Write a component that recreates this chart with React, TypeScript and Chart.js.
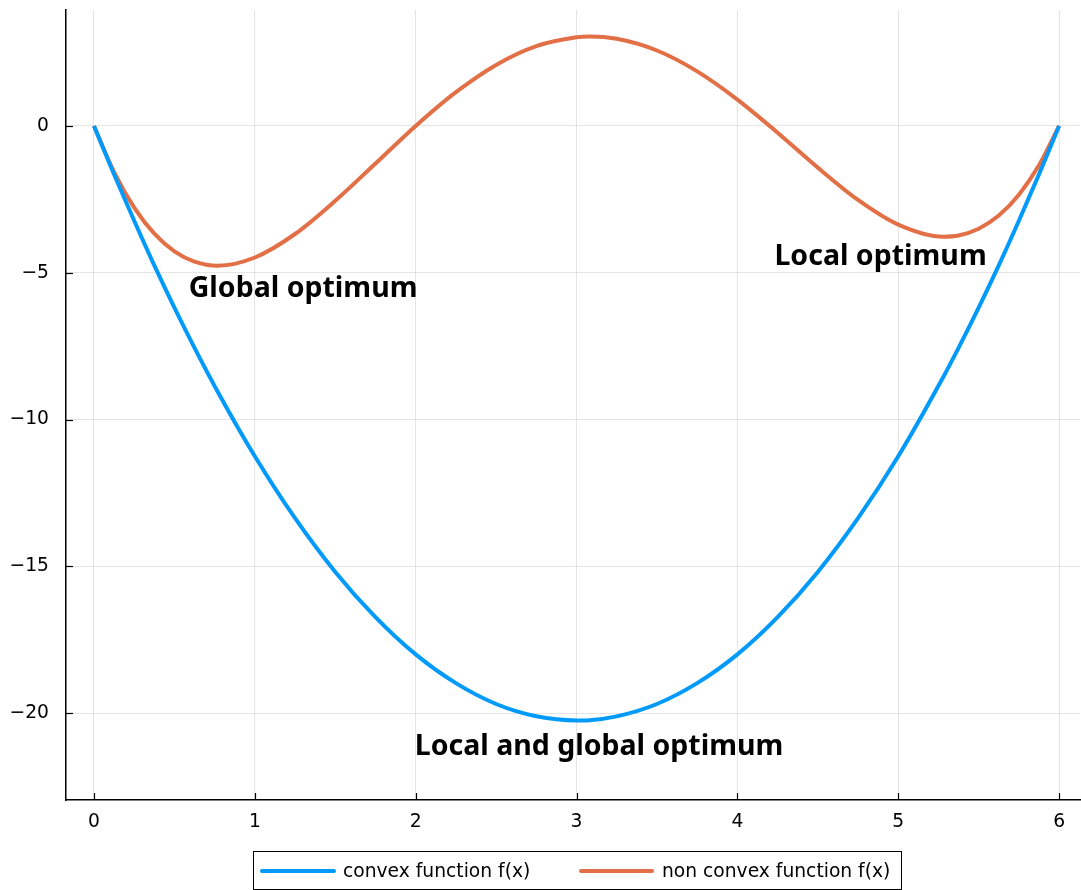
import React, { useEffect, useRef } from "react";
import { Chart, registerables } from "chart.js";

Chart.register(...registerables);

const X_VALUES = [0, 0.125, 0.25, 0.375, 0.5, 0.625, 0.77, 1, 1.25, 1.5, 1.75, 2, 2.25, 2.5, 2.75, 3, 3.08, 3.25, 3.5, 3.75, 4, 4.25, 4.5, 4.75, 5, 5.28, 5.375, 5.5, 5.625, 5.75, 5.875, 6];
const CONVEX = [0, -1.65, -3.23, -4.75, -6.19, -7.56, -9.06, -11.25, -13.36, -15.19, -16.73, -18, -18.98, -19.69, -20.11, -20.25, -20.24, -20.11, -19.69, -18.98, -18, -16.73, -15.19, -13.36, -11.25, -8.55, -7.56, -6.19, -4.75, -3.23, -1.65, 0];
const NON_CONVEX = [0, -1.57, -2.78, -3.67, -4.27, -4.62, -4.76, -4.48, -3.68, -2.55, -1.28, 0, 1.15, 2.08, 2.72, 3.02, 3.05, 2.97, 2.57, 1.86, 0.9, -0.23, -1.42, -2.52, -3.36, -3.77, -3.73, -3.5, -3.05, -2.34, -1.34, 0];
const X_TICKS = [0, 1, 2, 3, 4, 5, 6];
const Y_TICKS = [-20, -15, -10, -5, 0];
const SERIES_NAMES = ["convex function f(x)", "non convex function f(x)"];
const ANNOTATION_TEXTS = ["Global optimum", "Local optimum", "Local and global optimum"];
const ANNOTATION_X = [1.3, 4.89, 3.14];
const ANNOTATION_Y = [-5.55, -4.46, -21.16];

const BLUE = "#009AFA";
const ORANGE = "#E26F46";

const minus = (v: number) => String(v).replace("-", "\u2212");

export default function App() {
  const ref = useRef<HTMLCanvasElement | null>(null);
  useEffect(() => {
    document.body.style.margin = "0";
    const canvas = ref.current!;
    const extras = {
      id: "extras",
      afterDatasetsDraw(chart: any) {
        const { ctx, chartArea, scales } = chart;
        const xs = scales.x, ys = scales.y;
        ctx.save();
        ctx.strokeStyle = "#000";
        ctx.lineWidth = 1.2;
        X_TICKS.forEach((t) => {
          const px = Math.round(xs.getPixelForValue(t)) + 0.5;
          ctx.beginPath();
          ctx.moveTo(px, chartArea.bottom);
          ctx.lineTo(px, chartArea.bottom - 7);
          ctx.stroke();
        });
        Y_TICKS.forEach((t) => {
          const py = Math.round(ys.getPixelForValue(t)) + 0.5;
          ctx.beginPath();
          ctx.moveTo(chartArea.left, py);
          ctx.lineTo(chartArea.left + 7, py);
          ctx.stroke();
        });
        ctx.fillStyle = "#000";
        ctx.font = "bold 28.5px 'Noto Sans'";
        ctx.textAlign = "center";
        ctx.textBaseline = "middle";
        ANNOTATION_TEXTS.forEach((t, i) => {
          ctx.fillText(t, xs.getPixelForValue(ANNOTATION_X[i]), ys.getPixelForValue(ANNOTATION_Y[i]));
        });
        ctx.strokeStyle = "#000";
        ctx.lineWidth = 1;
        ctx.strokeRect(253.5, 851.5, 648, 38);
        ctx.font = "18.7px 'DejaVu Sans'";
        ctx.textAlign = "left";
        const items = [
          { color: BLUE, x0: 262, x1: 334, tx: 343 },
          { color: ORANGE, x0: 581, x1: 652, tx: 662 },
        ];
        items.forEach((it, i) => {
          ctx.strokeStyle = it.color;
          ctx.lineWidth = 4;
          ctx.lineCap = "round";
          ctx.beginPath();
          ctx.moveTo(it.x0, 871);
          ctx.lineTo(it.x1, 871);
          ctx.stroke();
          ctx.fillStyle = "#000";
          ctx.fillText(SERIES_NAMES[i], it.tx, 872);
        });
        ctx.restore();
      },
    };
    const noPad = (s: any) => {
      s.paddingTop = 0;
      s.paddingBottom = 0;
      s.paddingLeft = 0;
      s.paddingRight = 0;
    };
    const chart = new Chart(canvas, {
      type: "line",
      data: {
        datasets: [
          {
            label: SERIES_NAMES[0],
            data: X_VALUES.map((x, i) => ({ x, y: CONVEX[i] })),
            borderColor: BLUE,
            borderWidth: 4,
            pointRadius: 0,
            cubicInterpolationMode: "monotone",
            fill: false,
          },
          {
            label: SERIES_NAMES[1],
            data: X_VALUES.map((x, i) => ({ x, y: NON_CONVEX[i] })),
            borderColor: ORANGE,
            borderWidth: 4,
            pointRadius: 0,
            cubicInterpolationMode: "monotone",
            fill: false,
          },
        ],
      },
      options: {
        animation: false,
        responsive: false,
        devicePixelRatio: 1,
        layout: { padding: { top: 10, right: 1, left: 0, bottom: 0 } },
        plugins: { legend: { display: false }, tooltip: { enabled: false } },
        scales: {
          x: {
            type: "linear",
            min: -0.174,
            max: 6.13,
            afterFit: (s: any) => { s.height = 90; noPad(s); },
            afterBuildTicks: (s: any) => { s.ticks = X_TICKS.map((v) => ({ value: v })); },
            grid: { color: "rgba(0,0,0,0.1)", lineWidth: 1, drawTicks: false },
            border: { display: true, color: "#000", width: 1.5 },
            ticks: {
              padding: 11,
              color: "#000",
              font: { family: "'DejaVu Sans'", size: 18.7 },
              maxRotation: 0,
              callback: (v: any) => minus(v),
            },
          },
          y: {
            type: "linear",
            min: -22.96,
            max: 3.95,
            afterFit: (s: any) => { s.width = 66; noPad(s); },
            afterBuildTicks: (s: any) => { s.ticks = Y_TICKS.map((v) => ({ value: v })); },
            grid: { color: "rgba(0,0,0,0.1)", lineWidth: 1, drawTicks: false },
            border: { display: true, color: "#000", width: 1.5 },
            ticks: {
              padding: 17,
              color: "#000",
              font: { family: "'DejaVu Sans'", size: 18.7 },
              callback: (v: any) => minus(v),
            },
          },
        },
      },
      plugins: [extras],
    });
    return () => chart.destroy();
  }, []);
  return (
    <div style={{ width: 1081, height: 890, background: "#fff" }}>
      <canvas ref={ref} width={1081} height={890} style={{ display: "block" }} />
    </div>
  );
}
